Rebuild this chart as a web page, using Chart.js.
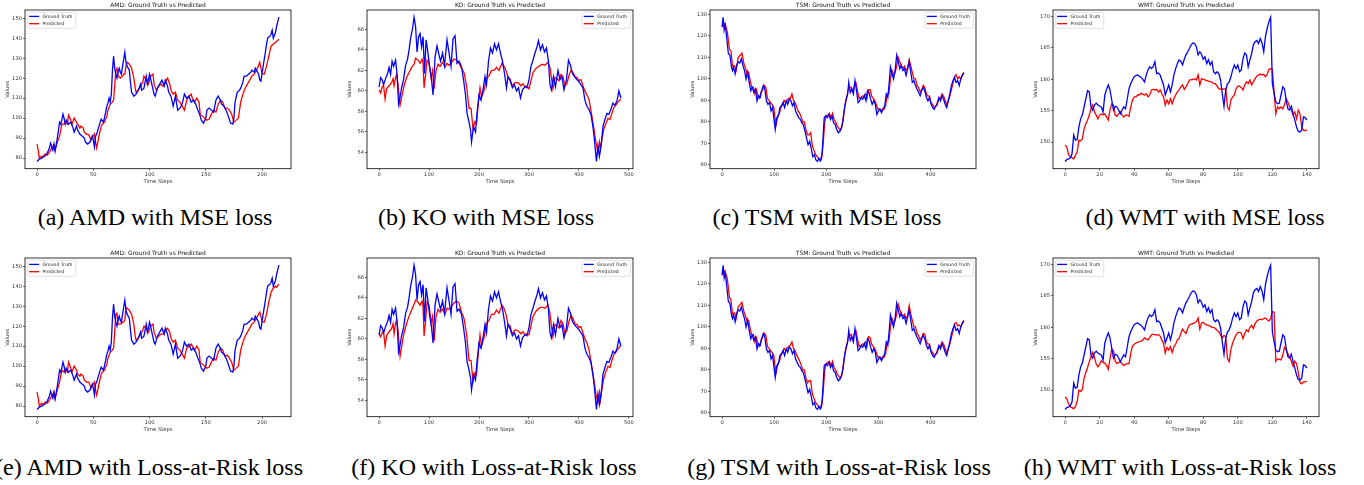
<!DOCTYPE html>
<html>
<head>
<meta charset="utf-8">
<script src="https://cdn.jsdelivr.net/npm/chart.js@4.4.1/dist/chart.umd.min.js"></script>
<style>
    body { margin: 0; background: #fff; width: 1364px; height: 485px; position: relative; overflow: hidden; }
    canvas.panel { position: absolute; }
    .caption { position: absolute; font-family: "Liberation Serif", serif; font-size: 24px; line-height: 24px; white-space: nowrap; transform: translateX(-50%); color: #000; }
</style>
</head>
<body>
<canvas class="panel" id="amdMse"></canvas>
<canvas class="panel" id="koMse"></canvas>
<canvas class="panel" id="tsmMse"></canvas>
<canvas class="panel" id="wmtMse"></canvas>
<canvas class="panel" id="amdLar"></canvas>
<canvas class="panel" id="koLar"></canvas>
<canvas class="panel" id="tsmLar"></canvas>
<canvas class="panel" id="wmtLar"></canvas>

<div class="caption" style="left:155px;top:205px">(a) AMD with MSE loss</div>
<div class="caption" style="left:486px;top:205px">(b) KO with MSE loss</div>
<div class="caption" style="left:827px;top:205px">(c) TSM with MSE loss</div>
<div class="caption" style="left:1205px;top:205px">(d) WMT with MSE loss</div>
<div class="caption" style="left:149px;top:455px">(e) AMD with Loss-at-Risk loss</div>
<div class="caption" style="left:494px;top:455px">(f) KO with Loss-at-Risk loss</div>
<div class="caption" style="left:839px;top:455px">(g) TSM with Loss-at-Risk loss</div>
<div class="caption" style="left:1180px;top:455px">(h) WMT with Loss-at-Risk loss</div>

<script>
// ---- data: [time step, value] ----
const amdTruth = [[0,78.3],[2,79.5],[4,80],[7,81],[9,82.5],[11,85],[12,87.5],[14,84],[15,87],[16,83.5],[18,90],[19,94],[20,98],[21,97],[22,99],[23,102],[24,100],[25,97],[26,99],[28,97],[30,98],[32,95],[33,93],[35,96],[36,94],[38,92],[40,91],[42,90],[43,88],[45,87],[47,88],[49,91],[50,89],[51,85.5],[52,91],[53,92],[55,96],[57,99.5],[59,98],[61,103],[62,106],[63,107.5],[64,110],[65,108],[66,112],[67,124],[68,131],[69,125],[70,122],[71,120],[72,123],[73,125],[74,123],[75,122],[76,126],[78,133],[79,128],[80,126],[82,124],[83,118],[84,113],[86,111],[88,112],[90,114],[92,117],[93,114],[95,115],[97,121],[98,117],[100,122],[102,117],[104,112],[105,111],[107,115],[109,117],[111,119],[113,116],[114,119],[116,116],[117,113],[119,111],[121,106],[123,111],[125,104],[127,105],[129,107],[131,112],[133,110],[135,111],[137,108],[139,109],[141,107],[143,104],[145,101],[146,99],[148,97.5],[150,100],[151,104],[153,105],[155,104],[157,103],[159,109],[161,111],[163,109],[164,107],[166,106],[168,104],[170,101],[172,97.5],[174,97],[175,100],[176,108],[178,113],[180,114],[181,115],[183,118],[184,121],[186,121],[188,122],[190,123],[191,124],[193,123],[194,125],[196,123],[197,122],[198,119],[199,118.5],[201,126],[203,133],[204,137],[205,140],[207,141],[208,142],[209,144],[210,140],[212,143],[213,146],[215,150.5]];
const amdPredMse = [[0,87],[1,84],[2,80],[4,81],[5,80.5],[7,82],[9,81.5],[11,83],[13,85],[15,86.5],[16,84],[18,88],[20,91],[22,97],[24,97],[25,98],[27,97],[28,101.5],[30,99],[31,97],[33,100],[35,98],[36,97],[38,95],[39,96],[41,95],[42,93],[44,92],[46,91.5],[48,89],[49,90],[50,91],[51,92],[52,88],[53,85],[55,91],[57,96],[58,97],[60,98],[62,101],[63,104],[65,107],[67,108],[68,109],[69,116],[70,124],[71,125],[72,121],[74,120],[76,121],[77,122],[78,122],[79,126],[80,128],[82,127],[84,125],[86,120],[87,116],[88,113],[90,114],[92,116],[94,118],[95,121],[97,119],[99,117],[101,121],[103,122],[104,117],[106,114],[108,116],[110,117],[112,116],[114,118],[116,120],[118,117],[119,114],[121,112],[123,113],[125,109],[127,108],[129,106],[131,104],[133,109],[135,111],[137,112],[138,110],[140,108],[142,110],[144,108],[145,102],[147,101],[149,100],[151,99],[153,99.5],[155,102],[157,104],[159,103],[161,107],[163,109],[165,108],[167,105],[169,105],[171,104],[173,102],[175,98],[177,99],[179,100],[181,108],[183,112],[185,115],[187,117],[189,119],[191,121],[193,122],[195,124],[196,125],[198,128],[199,125],[200,122.5],[202,122],[204,126],[206,131],[208,136],[210,137],[212,138],[214,139],[215,139.5]];
const amdPredLar = [[0,87],[1,84],[2,80],[4,81.5],[5,80.5],[7,82],[9,81.5],[11,83],[13,85],[15,87],[16,84],[18,88],[20,92],[22,98],[24,97],[25,98],[27,97],[28,102],[30,99],[31,97],[33,100],[35,98],[36,96],[38,95],[39,96],[41,95],[42,93],[44,92],[46,92],[48,89],[49,90],[50,91],[51,92],[52,88],[53,85.5],[55,91],[57,96],[58,97],[60,98],[62,101],[63,104],[65,107],[67,108],[68,109],[69,117],[70,126],[71,126.5],[72,121],[74,121],[76,122],[77,122],[78,123],[79,129.5],[80,129],[82,128],[84,126],[86,121],[87,116],[88,113],[90,114],[92,116],[94,118],[95,120],[97,119],[99,117],[101,120],[103,121],[104,117],[106,114],[108,115],[110,116],[112,116],[114,118],[116,119],[118,117],[119,114],[121,112],[123,113],[125,109],[127,108],[129,106],[131,104],[133,109],[135,110],[137,111],[138,110],[140,108],[142,110],[144,108],[145,102],[147,101],[149,100],[151,99],[153,99.5],[155,102],[157,104],[159,103],[161,107],[163,109],[165,108],[167,105],[169,105.5],[171,104],[173,102],[175,98],[177,99],[179,100],[181,108],[183,112],[185,115],[187,117],[189,119],[191,121],[193,122],[195,124],[196,125],[198,127],[199,125],[200,122.5],[202,122],[204,126],[206,132],[208,137],[210,139],[212,140],[213,139.5],[215,141]];

const koTruth = [[0,60.4],[3,61.3],[6,61.1],[9,60.6],[13,61.2],[17,61.7],[20,62.3],[23,61.6],[26,62.9],[29,62.4],[33,63.0],[36,61.6],[39,58.7],[41,59.1],[45,60.3],[49,61.1],[53,62.5],[57,63.1],[60,64.0],[63,65.1],[67,66.1],[70,67.2],[73,66.3],[76,63.8],[79,65.3],[82,65.6],[85,64.3],[88,65.3],[91,61.7],[94,65.0],[97,64.0],[101,62.4],[105,61.1],[108,59.6],[112,63.3],[116,64.4],[120,63.5],[123,62.9],[127,63.7],[131,62.5],[136,65.0],[140,63.7],[144,62.4],[148,65.1],[152,65.4],[156,62.7],[160,62.9],[165,62.4],[169,61.1],[173,59.6],[176,57.8],[179,57.2],[183,56.2],[185,55.0],[189,56.5],[193,56.0],[196,57.8],[200,59.6],[204,59.1],[208,60.1],[212,61.4],[215,60.6],[219,62.9],[223,64.2],[227,63.7],[231,64.6],[235,64.0],[239,64.6],[243,63.7],[247,62.9],[251,61.7],[255,60.3],[258,61.4],[263,60.9],[267,60.3],[271,60.6],[275,60.0],[279,60.3],[283,59.3],[287,60.1],[292,60.4],[296,60.3],[300,61.1],[304,62.4],[308,63.0],[312,63.7],[316,64.3],[319,64.9],[323,64.0],[327,64.5],[331,63.8],[335,64.2],[339,62.9],[342,60.6],[345,60.1],[349,61.4],[353,60.4],[358,62.0],[362,61.1],[366,61.4],[370,60.1],[375,61.1],[379,63.0],[383,62.5],[387,61.7],[391,61.4],[396,61.1],[400,60.9],[404,60.6],[408,60.3],[412,59.1],[416,58.5],[420,58.2],[424,57.7],[428,56.5],[431,55.2],[435,53.1],[438,54.6],[441,53.6],[445,54.9],[448,56.5],[452,57.2],[456,57.8],[460,57.7],[464,58.2],[468,58.8],[472,58.6],[476,59.0],[480,60.0],[484,59.3]];
const koPredMse = [[0,60.1],[3,59.8],[6,60.4],[9,60.5],[12,59.2],[15,60.2],[20,60.5],[25,60.8],[28,61.2],[30,60.5],[33,61.3],[35,61.6],[38,60.6],[42,58.6],[47,59.8],[50,60.5],[55,61.3],[60,61.8],[65,62.3],[70,62.6],[73,63.2],[78,63.0],[82,62.7],[86,63.1],[88,62.7],[90,60.3],[93,61.5],[96,63.0],[100,62.7],[104,61.3],[107,62.0],[110,60.2],[114,62.0],[118,62.6],[122,62.4],[127,62.8],[132,62.3],[136,62.7],[140,62.5],[144,62.7],[150,63.1],[155,63.0],[160,62.7],[165,62.2],[170,61.8],[175,60.5],[180,58.3],[184,58.3],[188,56.3],[192,57.0],[195,56.8],[198,58.5],[202,60.3],[205,59.4],[210,60.0],[215,61.2],[220,61.5],[225,62.0],[230,62.0],[235,62.3],[240,62.0],[246,62.7],[250,62.4],[254,62.0],[258,61.3],[262,61.2],[266,60.5],[272,60.8],[278,60.8],[284,60.5],[288,60.7],[292,60.4],[296,60.5],[300,60.2],[304,61.0],[308,61.8],[314,62.2],[320,62.4],[326,62.6],[332,62.5],[338,62.8],[342,62.3],[345,61.3],[348,60.2],[352,61.3],[356,61.2],[360,61.0],[364,61.6],[368,61.4],[372,60.5],[376,60.7],[380,61.5],[384,62.0],[388,61.8],[392,61.4],[396,61.3],[400,61.0],[404,61.1],[408,60.5],[412,60.0],[416,59.6],[420,59.2],[426,57.5],[430,56.3],[434,55.0],[438,54.0],[441,55.0],[443,54.3],[446,55.3],[450,56.3],[454,56.8],[458,57.3],[462,57.2],[466,57.8],[470,58.4],[474,58.6],[478,58.9],[484,59.2]];
const koPredLar = [[0,60.5],[3,60.2],[6,60.6],[9,60.7],[12,59.3],[15,60.3],[20,60.7],[25,61.0],[28,61.5],[30,60.5],[33,61.5],[35,61.9],[38,60.8],[42,58.3],[47,59.8],[50,60.6],[55,61.5],[60,62.2],[65,62.8],[70,63.4],[73,63.8],[78,63.6],[82,63.3],[86,63.7],[88,63.2],[90,60.3],[93,61.7],[96,63.6],[100,63.3],[104,61.6],[107,62.2],[110,59.8],[114,62.2],[118,62.9],[122,62.6],[127,62.9],[132,62.4],[136,63.0],[140,62.9],[144,63.1],[150,63.5],[155,63.7],[160,63.5],[165,62.6],[170,62.0],[175,60.5],[180,57.9],[184,57.9],[188,55.8],[192,56.7],[195,56.5],[198,58.3],[202,60.4],[205,59.3],[210,60.1],[215,61.5],[220,61.8],[225,62.4],[230,62.4],[235,62.8],[240,62.5],[246,63.3],[250,63.0],[254,62.4],[258,61.4],[262,61.3],[266,60.5],[272,60.9],[278,60.8],[284,60.5],[288,60.7],[292,60.4],[296,60.5],[300,60.4],[304,61.3],[308,62.2],[314,62.7],[320,63.0],[326,63.1],[332,63.0],[338,63.3],[342,62.5],[345,61.2],[348,60.2],[352,61.4],[356,61.3],[360,61.1],[364,61.8],[368,61.5],[372,60.5],[376,60.8],[380,61.7],[384,62.3],[388,62.0],[392,61.5],[396,61.4],[400,61.1],[404,61.2],[408,60.6],[412,60.0],[416,59.6],[420,59.0],[426,57.2],[430,56.0],[434,54.6],[438,53.8],[441,54.8],[443,54.0],[446,55.1],[450,56.2],[454,56.8],[458,57.3],[462,57.2],[466,57.9],[470,58.5],[474,58.7],[478,59.0],[484,59.4]];

const tsmTruth = [[0,124.3],[2,128.7],[4,122.8],[6,125.1],[8,121.2],[10,116.5],[12,111.8],[15,111.0],[18,105.5],[20,103.9],[22,105.5],[25,102.4],[28,106.3],[31,107.9],[34,107.4],[37,109.4],[40,106.3],[43,103.9],[46,100.0],[49,103.2],[52,98.4],[55,94.5],[58,96.1],[61,93.7],[64,95.3],[67,89.8],[70,92.2],[73,91.4],[76,94.5],[79,96.9],[82,95.3],[85,89.8],[88,88.2],[91,89.0],[94,85.1],[97,86.7],[100,80.4],[102,76.5],[105,82.0],[108,82.8],[111,86.7],[114,87.5],[117,89.0],[120,86.7],[123,89.8],[126,88.2],[129,90.6],[132,89.8],[135,87.5],[138,89.0],[141,85.1],[144,83.5],[147,82.0],[150,81.2],[153,79.6],[156,78.8],[159,75.7],[162,72.6],[165,69.4],[168,71.0],[171,67.8],[174,63.9],[177,64.7],[180,62.3],[183,61.6],[186,63.1],[189,61.9],[192,65.5],[194,74.1],[196,82.0],[199,82.8],[202,82.0],[205,83.5],[208,81.2],[211,82.8],[214,79.6],[217,78.8],[220,76.5],[223,74.9],[226,75.7],[229,77.3],[232,80.4],[235,86.7],[238,90.6],[241,93.0],[243,98.4],[246,93.7],[249,95.3],[252,93.0],[255,99.2],[258,94.5],[261,89.0],[264,89.8],[267,91.4],[270,90.6],[273,92.2],[276,89.8],[279,94.5],[282,93.7],[285,90.6],[288,88.2],[291,89.8],[294,88.2],[297,83.5],[300,85.1],[303,85.9],[306,84.3],[309,85.9],[312,87.5],[315,93.0],[318,91.4],[321,99.2],[323,105.5],[326,102.4],[329,100.0],[332,103.9],[335,111.0],[338,107.9],[341,104.7],[344,106.3],[347,103.9],[350,104.7],[353,101.6],[356,104.7],[359,107.9],[362,103.2],[365,98.4],[368,99.2],[371,96.9],[374,95.3],[377,93.7],[380,92.2],[383,94.5],[386,96.1],[389,94.5],[392,91.4],[395,89.8],[398,91.4],[401,88.2],[404,86.7],[407,85.9],[410,87.5],[413,88.2],[416,91.4],[419,89.8],[422,92.2],[425,90.6],[428,88.2],[431,86.7],[434,89.8],[437,93.0],[440,96.9],[443,99.2],[446,100.8],[449,98.4],[452,99.2],[455,96.9],[458,100.0],[461,101.6],[464,102.7]];
const tsmPredMse = [[0,124],[3,126],[6,125.5],[10,122],[14,114],[17,113],[20,106],[24,106],[27,104],[31,110],[35,111],[38,112],[42,107],[45,105],[48,102],[51,103],[54,99],[57,96],[60,96],[63,93],[66,95],[69,92],[72,91],[75,94],[78,95],[81,97],[84,96],[87,91],[90,90],[93,89],[96,88],[99,87],[102,81],[104,79],[107,83],[110,84],[113,87],[116,88],[119,90],[122,89],[125,90],[128,91],[131,91],[134,93],[137,90],[140,89],[143,87],[146,85],[149,84],[152,82],[155,80],[158,80],[161,76],[164,74],[167,74],[170,75],[173,69],[176,67],[179,65],[182,64],[185,63],[188,62],[191,63],[194,70],[197,80],[200,83],[203,83],[206,84],[209,82],[212,84],[215,81],[218,80],[221,78],[224,77],[227,76],[230,78],[233,83],[236,88],[239,91],[242,95],[245,96],[248,96],[251,94],[254,97],[257,98],[260,94],[263,91],[266,91],[269,92],[272,92],[275,93],[278,91],[281,95],[284,95],[287,92],[290,91],[293,90],[296,88],[299,86],[302,86],[305,85],[308,86],[311,86],[314,88],[317,93],[320,93],[323,100],[326,104],[329,102],[332,103],[335,106],[338,110],[341,108],[344,106],[347,105],[350,106],[353,104],[356,105],[359,109],[362,106],[365,103],[368,100],[371,100],[374,97],[377,96],[380,94],[383,95],[386,97],[389,96],[392,93],[395,92],[398,92],[401,89],[404,88],[407,87],[410,87],[413,89],[416,91],[419,91],[422,93],[425,92],[428,90],[431,88],[434,90],[437,92],[440,95],[443,98],[446,101],[449,102],[452,100],[455,101],[458,100],[461,102],[464,103]];
const tsmPredLar = [[0,124],[3,126.5],[6,125.5],[10,122.5],[14,114],[17,112.5],[20,106],[24,106.5],[27,104],[31,109.5],[35,110.5],[38,111.5],[42,107],[45,105],[48,102.5],[51,103],[54,99],[57,96],[60,96.5],[63,93],[66,95],[69,92],[72,91],[75,94],[78,95.5],[81,97],[84,96],[87,91],[90,90],[93,89],[96,88],[99,87],[102,81],[104,79],[107,83],[110,84],[113,87],[116,88],[119,90],[122,89],[125,90],[128,91],[131,91.5],[134,93],[137,90],[140,89],[143,87],[146,85.5],[149,84],[152,82],[155,80],[158,80],[161,76],[164,74],[167,75],[170,75],[173,69],[176,67],[179,65],[182,64],[185,63],[188,62],[191,63],[194,70],[197,80],[200,83],[203,83.5],[206,84],[209,82],[212,84],[215,81],[218,80],[221,78],[224,77],[227,76],[230,78],[233,83],[236,88],[239,91],[242,95],[245,96],[248,96.5],[251,94],[254,97],[257,98],[260,94],[263,91],[266,91],[269,92],[272,92],[275,93],[278,91],[281,95.5],[284,95],[287,92],[290,91],[293,90],[296,88],[299,86],[302,86],[305,85],[308,86],[311,86],[314,88],[317,93],[320,93],[323,100],[326,104],[329,102],[332,103],[335,106],[338,110.5],[341,108],[344,106],[347,105],[350,106],[353,104],[356,105],[359,110],[362,106],[365,103],[368,100],[371,100],[374,97],[377,96],[380,94],[383,95],[386,97],[389,96.5],[392,93],[395,92],[398,92],[401,89],[404,88],[407,87],[410,87],[413,89],[416,91],[419,91],[422,93],[425,92],[428,90],[431,88],[434,90],[437,92],[440,95],[443,98],[446,101.5],[449,102],[452,100.5],[455,101],[458,100],[461,102],[464,103]];

// WMT is read one value per time step (0..140)
const wmtTruth = [146.9,147.2,147.3,147.5,148.1,151.1,150.3,150.4,152.4,153.7,154.3,155.6,156.9,158.2,158.0,155.6,155.1,155.9,156.2,155.9,155.7,155.6,154.8,157.5,158.4,159.1,158.3,156.7,155.1,155.7,155.6,155.1,154.5,155.1,155.6,155.3,156.9,158.5,159.3,159.9,160.4,160.6,160.7,160.5,160.3,160.0,159.6,160.7,161.5,162.0,161.7,162.0,162.8,160.9,161.0,160.7,159.9,159.1,157.5,158.3,159.1,158.0,159.1,160.7,161.7,162.5,163.1,162.9,162.3,163.2,163.9,164.4,164.9,165.5,165.8,165.7,165.2,163.9,164.4,164.0,163.2,163.6,162.5,163.1,162.3,162.8,161.2,160.9,161.2,160.9,159.9,157.7,155.7,158.3,159.3,159.6,160.4,161.5,162.3,161.7,162.3,161.2,161.5,163.3,164.2,163.9,162.0,163.1,164.1,165.5,166.0,166.2,165.7,166.5,165.8,164.4,166.8,168.1,169.2,169.9,159.3,157.7,156.4,156.1,156.2,157.5,158.8,158.5,156.7,155.3,155.1,155.7,154.5,153.5,152.4,151.7,151.6,151.9,154.0,153.9,153.5];
const wmtPredMse = [149.5,149.2,148.0,147.7,147.5,147.3,147.9,148.4,150.3,150.2,150.5,152.1,152.9,153.5,154.3,155.3,155.9,154.8,154.3,153.7,154.3,154.5,154.3,154.5,154.0,153.5,155.1,156.1,155.9,154.3,154.1,154.5,154.8,154.3,154.0,154.3,154.3,154.1,155.6,156.7,157.2,157.2,157.5,157.5,157.8,157.6,157.5,157.7,157.2,157.5,158.3,158.4,158.3,158.4,158.0,158.3,157.7,157.2,155.9,156.7,156.1,156.9,156.1,156.9,157.5,158.0,158.3,158.8,159.1,158.4,158.8,159.3,159.9,159.9,160.0,160.1,159.9,160.7,159.1,160.1,160.0,159.9,159.8,159.7,159.6,159.6,159.3,159.3,158.9,158.5,158.4,158.5,158.4,158.5,155.6,155.1,156.7,157.2,157.5,158.5,158.9,158.9,158.7,158.3,159.1,159.6,159.3,159.9,159.1,159.6,160.1,160.5,160.7,160.8,160.7,160.8,160.4,160.8,161.6,161.7,161.6,158.0,154.5,155.6,155.3,155.6,155.3,155.9,156.9,156.4,155.6,155.1,154.3,154.8,153.7,155.1,154.5,152.4,151.9,151.8,152.0];
const wmtPredLar = [148.9,148.6,147.8,147.3,147.2,147.0,147.4,148.2,150.0,149.8,150.1,151.9,152.8,153.6,154.5,155.3,156.0,155.2,154.2,153.7,154.1,154.7,154.4,154.3,153.9,153.3,155.0,156.5,156.3,154.6,154.2,154.4,154.5,154.2,153.9,154.1,154.2,154.2,155.8,157.0,157.3,157.5,157.6,157.7,157.8,158.0,158.3,158.1,158.0,158.4,158.8,158.9,158.8,158.8,158.8,158.6,158.0,157.4,155.9,156.8,156.4,156.9,156.0,156.9,157.3,158.0,158.2,159.0,159.7,159.3,159.0,159.8,160.4,160.5,160.6,160.7,160.9,161.5,159.7,160.7,160.8,160.5,160.4,160.3,160.2,160.0,160.0,159.8,159.5,159.3,158.8,158.3,158.7,158.5,155.0,154.5,156.5,157.5,158.2,158.8,159.2,159.2,159.1,158.2,159.0,159.6,159.3,160.0,160.3,159.8,160.6,161.0,161.2,161.3,161.2,161.4,161.5,161.2,161.0,161.4,162.5,162.4,154.6,155.0,154.9,154.8,155.5,156.8,156.3,155.8,155.2,154.6,153.8,154.6,154.2,152.8,151.2,151.0,151.3,151.3,151.4];

const amdXTicks = [0, 50, 100, 150, 200];
const amdYTicks = [80, 90, 100, 110, 120, 130, 140, 150];
const koXTicks = [0, 100, 200, 300, 400, 500];
const koYTicks = [54, 56, 58, 60, 62, 64, 66];
const tsmXTicks = [0, 100, 200, 300, 400];
const tsmYTicks = [60, 70, 80, 90, 100, 110, 120, 130];
const wmtXTicks = [0, 20, 40, 60, 80, 100, 120, 140];
const wmtYTicks = [150, 155, 160, 165, 170];

// ---- layout (px) ----
const FRAME_LEFT = [24.5, 367, 710, 1052.5];
const FRAME_TOP = [10, 258.3];
const FRAME_W = 266, FRAME_H = 158.7;
const Y_AXIS_W = 24, TITLE_H = 10, RIGHT_PAD = 4, CANVAS_H = 187;

function asPairs(values) {
    return values.map((v, i) => [i, v]);
}

// matplotlib-like legend box inside the axes
const legendBox = {
    id: 'legendBox',
    afterDatasetsDraw(chart, args, opts) {
        const { ctx, chartArea: a } = chart;
        const sets = chart.data.datasets;
        ctx.save();
        ctx.font = '4.6px "DejaVu Sans"';
        const textW = Math.max(...sets.map(d => ctx.measureText(d.label).width));
        const w = 2 + 10 + 3.4 + textW + 3;
        const h = 16;
        const x = opts.side === 'right' ? a.right - 2.6 - w : a.left + 2.3;
        const y = a.top + 2.3;
        ctx.fillStyle = 'rgba(255,255,255,0.85)';
        ctx.strokeStyle = '#cccccc';
        ctx.lineWidth = 0.6;
        ctx.beginPath();
        ctx.roundRect(x, y, w, h, 1.5);
        ctx.fill();
        ctx.stroke();
        sets.forEach((d, i) => {
            const cy = y + 4.1 + i * 7.3;
            ctx.strokeStyle = d.borderColor;
            ctx.lineWidth = 1.3;
            ctx.beginPath();
            ctx.moveTo(x + 1.8, cy);
            ctx.lineTo(x + 11.8, cy);
            ctx.stroke();
            ctx.fillStyle = '#222';
            ctx.textBaseline = 'middle';
            ctx.fillText(d.label, x + 15.2, cy + 0.3);
        });
        ctx.restore();
    }
};

// black box around the axes
const axesFrame = {
    id: 'axesFrame',
    afterDraw(chart) {
        const { ctx, chartArea: a } = chart;
        ctx.save();
        ctx.strokeStyle = '#000';
        ctx.lineWidth = 0.8;
        ctx.strokeRect(a.left, a.top, a.right - a.left, a.bottom - a.top);
        ctx.restore();
    }
};

function drawPanel(id, col, row, name, truth, pred, xTicks, yTicks, legendSide) {
    const canvas = document.getElementById(id);
    const cw = Y_AXIS_W + FRAME_W + RIGHT_PAD;
    canvas.width = cw;
    canvas.height = CANVAS_H;
    canvas.style.width = cw + 'px';
    canvas.style.height = CANVAS_H + 'px';
    canvas.style.left = (FRAME_LEFT[col] - Y_AXIS_W) + 'px';
    canvas.style.top = (FRAME_TOP[row] - TITLE_H) + 'px';

    // 5% margins like matplotlib autoscale
    const xs = truth.map(p => p[0]).concat(pred.map(p => p[0]));
    const ys = truth.map(p => p[1]).concat(pred.map(p => p[1]));
    const xMin = Math.min(...xs), xMax = Math.max(...xs);
    const yMin = Math.min(...ys), yMax = Math.max(...ys);
    const xPad = (xMax - xMin) * 0.05, yPad = (yMax - yMin) * 0.05;

    const tickFont = { family: 'DejaVu Sans', size: 5.2 };

    new Chart(canvas.getContext('2d'), {
        type: 'line',
        data: {
            datasets: [{
                label: 'Ground Truth',
                data: truth.map(p => ({ x: p[0], y: p[1] })),
                borderColor: '#0000ff',
                borderWidth: 1.3,
                pointRadius: 0,
                tension: 0
            }, {
                label: 'Predicted',
                data: pred.map(p => ({ x: p[0], y: p[1] })),
                borderColor: '#ff0000',
                borderWidth: 1.3,
                pointRadius: 0,
                tension: 0
            }]
        },
        options: {
            responsive: false,
            animation: false,
            devicePixelRatio: 1,
            layout: { padding: { left: 0, right: RIGHT_PAD, top: 0, bottom: 0 } },
            plugins: {
                legend: { display: false },
                tooltip: { enabled: false },
                title: {
                    display: true,
                    text: name + ': Ground Truth vs Predicted',
                    fullSize: false,
                    color: '#111',
                    font: { family: 'DejaVu Sans', size: 6, weight: 'normal', lineHeight: 1.2 },
                    padding: { top: 2.1, bottom: TITLE_H - 7.2 - 2.1 }
                },
                legendBox: { side: legendSide }
            },
            scales: {
                x: {
                    type: 'linear',
                    min: xMin - xPad,
                    max: xMax + xPad,
                    afterBuildTicks: axis => { axis.ticks = xTicks.map(v => ({ value: v })); },
                    afterFit: s => { s.height = CANVAS_H - TITLE_H - FRAME_H; },
                    grid: { display: true, drawOnChartArea: false, drawTicks: true, tickLength: 2, color: '#000', lineWidth: 0.6 },
                    border: { display: false },
                    ticks: { font: tickFont, color: '#333', padding: 0.6, maxRotation: 0, autoSkip: false },
                    title: { display: true, text: 'Time Steps', color: '#333', font: { family: 'DejaVu Sans', size: 5.2, lineHeight: 1.2 }, padding: { top: 0, bottom: 2.7 } }
                },
                y: {
                    type: 'linear',
                    min: yMin - yPad,
                    max: yMax + yPad,
                    afterBuildTicks: axis => { axis.ticks = yTicks.map(v => ({ value: v })); },
                    afterFit: s => { s.width = Y_AXIS_W; },
                    grid: { display: true, drawOnChartArea: false, drawTicks: true, tickLength: 2, color: '#000', lineWidth: 0.6 },
                    border: { display: false },
                    ticks: { font: tickFont, color: '#333', padding: 1, autoSkip: false },
                    title: { display: true, text: 'Values', color: '#333', font: { family: 'DejaVu Sans', size: 5.2, lineHeight: 1.2 }, padding: { top: 3.2, bottom: 0 } }
                }
            }
        },
        plugins: [legendBox, axesFrame]
    });
}

drawPanel('amdMse', 0, 0, 'AMD', amdTruth, amdPredMse, amdXTicks, amdYTicks, 'left');
drawPanel('koMse', 1, 0, 'KO', koTruth, koPredMse, koXTicks, koYTicks, 'right');
drawPanel('tsmMse', 2, 0, 'TSM', tsmTruth, tsmPredMse, tsmXTicks, tsmYTicks, 'right');
drawPanel('wmtMse', 3, 0, 'WMT', asPairs(wmtTruth), asPairs(wmtPredMse), wmtXTicks, wmtYTicks, 'left');
drawPanel('amdLar', 0, 1, 'AMD', amdTruth, amdPredLar, amdXTicks, amdYTicks, 'left');
drawPanel('koLar', 1, 1, 'KO', koTruth, koPredLar, koXTicks, koYTicks, 'right');
drawPanel('tsmLar', 2, 1, 'TSM', tsmTruth, tsmPredLar, tsmXTicks, tsmYTicks, 'right');
drawPanel('wmtLar', 3, 1, 'WMT', asPairs(wmtTruth), asPairs(wmtPredLar), wmtXTicks, wmtYTicks, 'left');
</script>
</body>
</html>
